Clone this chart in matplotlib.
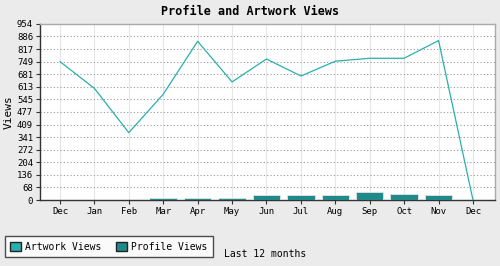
import matplotlib
matplotlib.use("Agg")
import matplotlib.pyplot as plt
from matplotlib.patches import Patch
import numpy as np

months = ["Dec", "Jan", "Feb", "Mar", "Apr", "May", "Jun",
          "Jul", "Aug", "Sep", "Oct", "Nov", "Dec"]
artwork_views = [750, 605, 365, 573, 860, 640, 764, 672, 752, 768, 768, 864, 0]
profile_views = [0, 0, 0, 10, 10, 10, 29, 25, 25, 45, 34, 29, 0]
y_ticks = [0, 68, 136, 204, 272, 341, 409, 477, 545, 613, 681, 749, 817, 886, 954]

line_color = "#2aafaf"
bar_color = "#1f8a89"
bg = "#ebebeb"

plt.rcParams["font.family"] = "DejaVu Sans Mono"

fig = plt.figure(figsize=(5, 2.66), dpi=100, facecolor=bg)
ax = fig.add_axes([0.08, 0.248, 0.91, 0.662])
ax.set_facecolor("white")

x = np.arange(len(months))
ax.bar(x, profile_views, width=0.8, color=bar_color, edgecolor="#e4e4e4",
       linewidth=0.6, zorder=3)
ax.plot(x, artwork_views, color=line_color, linewidth=0.9, zorder=4)

ax.set_xlim(-0.58, 12.64)
ax.set_ylim(0, 954)
ax.set_xticks(x)
ax.set_xticklabels(months, fontsize=6.5)
ax.set_yticks(y_ticks)
ax.set_yticklabels([str(v) for v in y_ticks], fontsize=6.5)
ax.tick_params(axis="both", length=3, width=0.8, color="#333333", pad=2)

ax.yaxis.grid(True, linestyle=(0, (1, 2)), color="#999999", linewidth=0.8)
ax.xaxis.grid(True, linestyle="-", color="#e6e6e6", linewidth=0.8)
ax.set_axisbelow(True)

for side in ["top", "right"]:
    ax.spines[side].set_color("#aaaaaa")
    ax.spines[side].set_linewidth(1)
for side in ["left", "bottom"]:
    ax.spines[side].set_color("#333333")
    ax.spines[side].set_linewidth(1)

ax.set_ylabel("Views", fontsize=8, labelpad=2)
fig.suptitle("Profile and Artwork Views", fontsize=8.5, fontweight="bold",
             y=0.98, x=0.5)

handles = [Patch(facecolor=line_color, edgecolor="#222222", label="Artwork Views"),
           Patch(facecolor=bar_color, edgecolor="#222222", label="Profile Views")]
leg = fig.legend(handles=handles, loc="lower left", bbox_to_anchor=(0.01, 0.034),
                 ncol=2, fontsize=7, frameon=True, fancybox=False,
                 handlelength=1.05, handleheight=1.1, handletextpad=0.5,
                 columnspacing=1.5, borderpad=0.55, borderaxespad=0)
leg.get_frame().set_edgecolor("#222222")
leg.get_frame().set_linewidth(1)

fig.text(0.448, 0.025, "Last 12 months", fontsize=7, ha="left", va="bottom")

fig.savefig("out.png", dpi=100, facecolor=bg)
